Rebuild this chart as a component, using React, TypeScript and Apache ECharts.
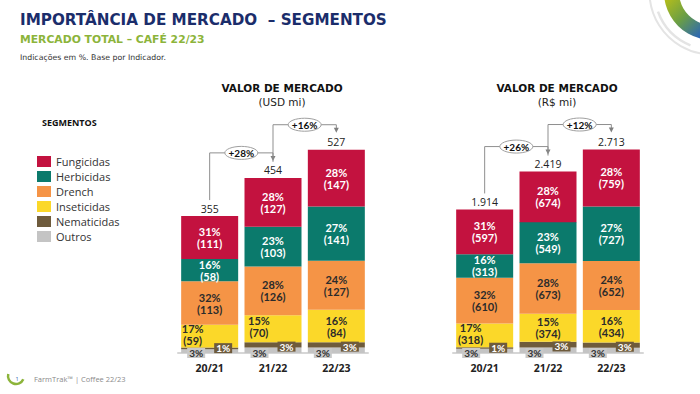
import React, { useEffect, useRef } from 'react';
import * as echarts from 'echarts';

// ---- data ----
const categories = ['20/21', '21/22', '22/23'];
const legendOrder = ['Fungicidas', 'Herbicidas', 'Drench', 'Inseticidas', 'Nematicidas', 'Outros'];

// USD mi
const usdFungicidas = [111, 127, 147];
const usdHerbicidas = [58, 103, 141];
const usdDrench = [113, 126, 127];
const usdInseticidas = [59, 70, 84];
const usdNematicidas = [4, 14, 14];
const usdOutros = [10, 14, 14];
const usdTotals = [355, 454, 527];
const usdGrowth = [28, 16];

// R$ mi
const brlFungicidas = [597, 674, 759];
const brlHerbicidas = [313, 549, 727];
const brlDrench = [610, 673, 652];
const brlInseticidas = [318, 374, 434];
const brlNematicidas = [19, 75, 71];
const brlOutros = [57, 74, 70];
const brlTotals = [1914, 2419, 2713];
const brlGrowth = [26, 12];

// shares (%)
const pctFungicidas = [31, 28, 28];
const pctHerbicidas = [16, 23, 27];
const pctDrench = [32, 28, 24];
const pctInseticidas = [17, 15, 16];
const pctNematicidas = [1, 3, 3];
const pctOutros = [3, 3, 3];

// ---- styles ----
const COLORS: Record<string, string> = {
  Fungicidas: '#c3123f',
  Herbicidas: '#0b7a6c',
  Drench: '#f59446',
  Inseticidas: '#fbd829',
  Nematicidas: '#6e5b3c',
  Outros: '#c4c4c4',
};
const LABEL_FONT = 'Lato';
const UI_FONT = 'Open Sans';
const TITLE_FONT = 'DejaVu Sans';

const fmtThousands = (n: number) => String(n).replace(/\B(?=(\d{3})+(?!\d))/g, '.');

type Seg = { name: string; values: number[]; pcts: number[] };

function buildSeries(gi: number, segs: Seg[], totals: number[], insetShift: number[]) {
  const stack = 'stack' + gi;
  const out: any[] = [];
  segs.forEach((s) => {
    const base: any = {
      type: 'bar',
      name: s.name,
      xAxisIndex: gi,
      yAxisIndex: gi,
      stack,
      barWidth: 57,
      barGap: '-100%',
      itemStyle: { color: COLORS[s.name] },
      emphasis: { disabled: true },
    };
    if (s.name === 'Outros') {
      base.data = s.values;
      base.label = {
        show: true,
        position: 'insideBottomLeft',
        distance: 0,
        offset: [6, 5],
        formatter: (p: any) => s.pcts[p.dataIndex] + '%',
        backgroundColor: '#c9c9c9',
        color: '#333',
        fontFamily: LABEL_FONT,
        fontWeight: 'bold',
        fontSize: 10,
        padding: [0, 2, 0, 2],
        lineHeight: 10,
      };
    } else if (s.name === 'Nematicidas') {
      base.data = s.values;
      base.label = {
        show: true,
        position: 'insideBottomRight',
        distance: 0,
        offset: [-6, 4],
        formatter: (p: any) => s.pcts[p.dataIndex] + '%',
        backgroundColor: '#6e5b3c',
        color: '#fff',
        fontFamily: LABEL_FONT,
        fontWeight: 'bold',
        fontSize: 10,
        padding: [0, 2, 0, 2],
        lineHeight: 10,
      };
    } else {
      const light = s.name === 'Fungicidas' || s.name === 'Herbicidas';
      base.data = s.values.map((v, i) => {
        if (s.name === 'Inseticidas' && insetShift[i]) {
          return { value: v, label: { offset: [insetShift[i], -2] } };
        }
        return v;
      });
      base.label = {
        show: true,
        position: 'inside',
        formatter: (p: any) => `${s.pcts[p.dataIndex]}%\n(${s.values[p.dataIndex]})`,
        color: light ? '#ffffff' : '#2b2b2b',
        fontFamily: LABEL_FONT,
        fontWeight: 'bold',
        fontSize: 11,
        lineHeight: 12,
      };
    }
    out.push(base);
  });
  out.push({
    type: 'bar',
    name: 'Total' + gi,
    xAxisIndex: gi,
    yAxisIndex: gi,
    barWidth: 57,
    barGap: '-100%',
    silent: true,
    z: 1,
    data: totals,
    itemStyle: { color: 'rgba(0,0,0,0)' },
    label: {
      show: true,
      position: 'top',
      distance: 2,
      formatter: (p: any) => fmtThousands(totals[p.dataIndex]),
      color: '#222',
      fontFamily: UI_FONT,
      fontSize: 10.5,
    },
  });
  return out;
}

export default function App() {
  const ref = useRef<HTMLDivElement>(null);
  useEffect(() => {
    const chart = echarts.init(ref.current!, null, { renderer: 'svg' });

    const usdSegs: Seg[] = [
      { name: 'Outros', values: usdOutros, pcts: pctOutros },
      { name: 'Nematicidas', values: usdNematicidas, pcts: pctNematicidas },
      { name: 'Inseticidas', values: usdInseticidas, pcts: pctInseticidas },
      { name: 'Drench', values: usdDrench, pcts: pctDrench },
      { name: 'Herbicidas', values: usdHerbicidas, pcts: pctHerbicidas },
      { name: 'Fungicidas', values: usdFungicidas, pcts: pctFungicidas },
    ];
    const brlSegs: Seg[] = [
      { name: 'Outros', values: brlOutros, pcts: pctOutros },
      { name: 'Nematicidas', values: brlNematicidas, pcts: pctNematicidas },
      { name: 'Inseticidas', values: brlInseticidas, pcts: pctInseticidas },
      { name: 'Drench', values: brlDrench, pcts: pctDrench },
      { name: 'Herbicidas', values: brlHerbicidas, pcts: pctHerbicidas },
      { name: 'Fungicidas', values: brlFungicidas, pcts: pctFungicidas },
    ];

    const grids = [
      { left: 178, top: 83, width: 190, height: 270 },
      { left: 453, top: 83, width: 190, height: 270 },
    ];
    const xAxisBase = {
      type: 'category',
      data: categories,
      axisLine: { lineStyle: { color: '#d6d6d6', width: 2 } },
      axisTick: { show: false },
      axisLabel: { color: '#222', fontWeight: 'bold', fontSize: 10.5, fontFamily: UI_FONT, margin: 9 },
    };

    chart.setOption({
      animation: false,
      grid: grids,
      xAxis: [
        { ...xAxisBase, gridIndex: 0 },
        { ...xAxisBase, gridIndex: 1 },
      ],
      yAxis: [
        { type: 'value', gridIndex: 0, min: 0, max: 700, show: false, splitLine: { show: false } },
        { type: 'value', gridIndex: 1, min: 0, max: 3600, show: false, splitLine: { show: false } },
      ],
      legend: {
        data: legendOrder,
        orient: 'vertical',
        left: 32,
        top: 151,
        icon: 'rect',
        itemWidth: 14,
        itemHeight: 11,
        itemGap: 4,
        selectedMode: false,
        textStyle: { fontFamily: UI_FONT, fontSize: 11, color: '#333', lineHeight: 11 },
      },
      series: [
        ...buildSeries(0, usdSegs, usdTotals, [-17, -14, 0]),
        ...buildSeries(1, brlSegs, brlTotals, [-14, 0, 0]),
      ],
    });

    const graphics: any[] = [];
    // page titles
    graphics.push(
      { type: 'text', x: 20, y: 20, style: { text: 'IMPORTÂNCIA DE MERCADO  – SEGMENTOS', fontFamily: TITLE_FONT, fontWeight: 'bold', fontSize: 15.2, fill: '#1b2d6b', verticalAlign: 'middle' } },
      { type: 'text', x: 20, y: 39, style: { text: 'MERCADO TOTAL – CAFÉ 22/23', fontFamily: TITLE_FONT, fontWeight: 'bold', fontSize: 10.8, fill: '#8cb43a', verticalAlign: 'middle' } },
      { type: 'text', x: 20, y: 57, style: { text: 'Indicações em %. Base por Indicador.', fontFamily: TITLE_FONT, fontSize: 7.8, fill: '#333', verticalAlign: 'middle' } },
      { type: 'text', x: 42, y: 122, style: { text: 'SEGMENTOS', fontFamily: UI_FONT, fontWeight: 'bold', fontSize: 9, fill: '#111', verticalAlign: 'middle' } },
    );
    // chart titles
    const chartTitles = [
      ['VALOR DE MERCADO', '(USD mi)'],
      ['VALOR DE MERCADO', '(R$ mi)'],
    ];
    chartTitles.forEach((t, gi) => {
      const cx = grids[gi].left + grids[gi].width / 2 + 9;
      graphics.push(
        { type: 'text', x: cx, y: 88, style: { text: t[0], fontFamily: TITLE_FONT, fontWeight: 'bold', fontSize: 10.5, fill: '#111', align: 'center', verticalAlign: 'middle' } },
        { type: 'text', x: cx, y: 102, style: { text: t[1], fontFamily: TITLE_FONT, fontSize: 10.5, fill: '#222', align: 'center', verticalAlign: 'middle' } },
      );
    });
    // growth brackets
    const growthSets = [
      { totals: usdTotals, growth: usdGrowth },
      { totals: brlTotals, growth: brlGrowth },
    ];
    growthSets.forEach((gs, gi) => {
      gs.growth.forEach((g, i) => {
        const p1 = chart.convertToPixel({ gridIndex: gi }, [i, gs.totals[i]]) as number[];
        const p2 = chart.convertToPixel({ gridIndex: gi }, [i + 1, gs.totals[i + 1]]) as number[];
        const x1 = p1[0];
        const x2 = p2[0];
        const yStart = p1[1] - 16;
        const yTop = p2[1] - 25;
        const yTip = p2[1] - 17;
        graphics.push({
          type: 'polyline',
          shape: { points: [[x1, yStart], [x1, yTop], [x2, yTop], [x2, yTip - 4]] },
          style: { stroke: '#8f8f8f', lineWidth: 1, fill: 'none' },
          z: 10,
        });
        graphics.push({
          type: 'polygon',
          shape: { points: [[x2 - 2.5, yTip - 5], [x2 + 2.5, yTip - 5], [x2, yTip]] },
          style: { fill: '#7f7f7f' },
          z: 10,
        });
        const mx = (x1 + x2) / 2;
        graphics.push({
          type: 'ellipse',
          shape: { cx: mx, cy: yTop, rx: 16.5, ry: 6.5 },
          style: { fill: '#fff', stroke: '#a0a0a0', lineWidth: 1 },
          z: 11,
        });
        graphics.push({
          type: 'text',
          x: mx,
          y: yTop,
          z: 12,
          style: { text: '+' + g + '%', fontFamily: LABEL_FONT, fontWeight: 'bold', fontSize: 10, fill: '#111', align: 'center', verticalAlign: 'middle' },
        });
      });
    });
    // corner logo
    graphics.push(
      { type: 'arc', shape: { cx: 712, cy: -8, r: 62.5, startAngle: 0, endAngle: Math.PI * 2 }, style: { stroke: '#e4e4e4', lineWidth: 2, fill: 'none' } },
      { type: 'arc', shape: { cx: 712, cy: -8, r: 57.5, startAngle: (112 * Math.PI) / 180, endAngle: (160 * Math.PI) / 180 }, style: { stroke: '#e4e4e4', lineWidth: 2.5, fill: 'none' } },
      {
        type: 'ring',
        shape: { cx: 712, cy: -8, r: 48, r0: 33 },
        style: {
          fill: new echarts.graphic.LinearGradient(665, 0, 700, 36, [
            { offset: 0, color: '#b3bd1c' },
            { offset: 0.5, color: '#6a9e45' },
            { offset: 1, color: '#2d68b3' },
          ], true),
        },
      },
    );
    // footer
    graphics.push(
      { type: 'arc', shape: { cx: 16, cy: 376, r: 8, startAngle: 0.42, endAngle: 3.4 }, style: { stroke: '#8cb43a', lineWidth: 2.5, fill: 'none' } },
      { type: 'text', x: 17, y: 379, style: { text: '1', fontFamily: UI_FONT, fontSize: 5.5, fill: '#2a5caa', align: 'center', verticalAlign: 'middle' } },
      { type: 'text', x: 34, y: 379, style: { text: 'FarmTrak™ | Coffee 22/23', fontFamily: UI_FONT, fontSize: 7.5, fill: '#8a8a8a', verticalAlign: 'middle' } },
    );

    chart.setOption({ graphic: { elements: graphics } });

    return () => chart.dispose();
  }, []);
  return <div ref={ref} style={{ position: 'fixed', left: 0, top: 0, width: 700, height: 394, background: '#fff' }} />;
}
